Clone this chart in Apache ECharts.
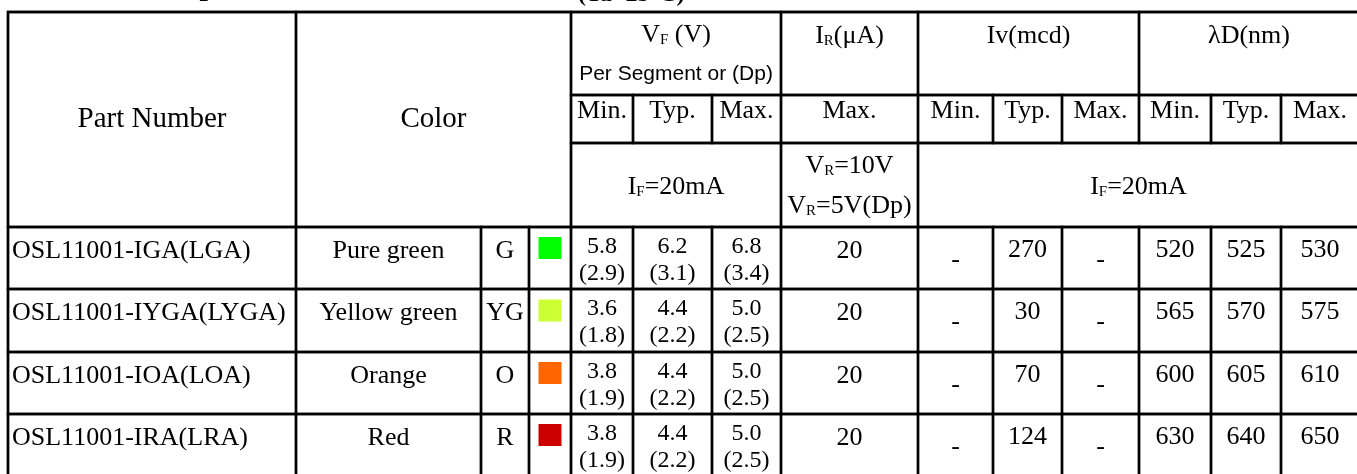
<!DOCTYPE html>
<html><head><meta charset="utf-8">
<script src="https://cdn.jsdelivr.net/npm/echarts@6/dist/echarts.min.js"></script>
<style>html,body{margin:0;padding:0;background:#fff;}#chart{width:1357px;height:474px;}</style>
</head><body><div id="chart"></div>
<script>
// ---- data ----
const partNumbers = ['OSL11001-IGA(LGA)', 'OSL11001-IYGA(LYGA)', 'OSL11001-IOA(LOA)', 'OSL11001-IRA(LRA)'];
const colorNames = ['Pure green', 'Yellow green', 'Orange', 'Red'];
const colorCodes = ['G', 'YG', 'O', 'R'];
const swatchColors = ['#00ff00', '#ccff33', '#ff6600', '#cc0000'];
const vfMin = [5.8, 3.6, 3.8, 3.8];
const vfMinDp = [2.9, 1.8, 1.9, 1.9];
const vfTyp = [6.2, 4.4, 4.4, 4.4];
const vfTypDp = [3.1, 2.2, 2.2, 2.2];
const vfMax = [6.8, 5.0, 5.0, 5.0];
const vfMaxDp = [3.4, 2.5, 2.5, 2.5];
const irMax = [20, 20, 20, 20];
const ivMin = ['-', '-', '-', '-'];
const ivTyp = [270, 30, 70, 124];
const ivMax = ['-', '-', '-', '-'];
const ldMin = [520, 565, 600, 630];
const ldTyp = [525, 570, 605, 640];
const ldMax = [530, 575, 610, 650];
const titleMain = 'Electrical-Optical Characteristics';
const titleCond = '(Ta=25°C)';
const headPart = 'Part Number';
const headColor = 'Color';
const headGroups = ['V{sub|F} (V)\n{sans|Per Segment or (Dp)}', 'I{sub|R}(μA)', 'Iv(mcd)', 'λD(nm)'];
const subHeaders = ['Min.', 'Typ.', 'Max.', 'Max.', 'Min.', 'Typ.', 'Max.', 'Min.', 'Typ.', 'Max.'];
const conditions = ['I{sub|F}=20mA', 'V{sub|R}=10V\nV{sub|R}=5V(Dp)', 'I{sub|F}=20mA'];

// ---- layout ----
const colKeys = ['part','cname','ccode','swatch','vfMin','vfTyp','vfMax','irMax','ivMin','ivTyp','ivMax','ldMin','ldTyp','ldMax'];
const colWidths = [288,185,48,42,62,79,69,137,75,69,77,72,70,78];
const rowKeys = ['h0','h1','h2','r0','r1','r2','r3'];
const rowHeights = [83,48,84,62,63,62,62];
const serif = 'Liberation Serif';

const cells = [];
function add(x, y, text, label) {
  const c = { coord: [x, y], value: String(text) };
  if (Array.isArray(x) || Array.isArray(y)) c.mergeCells = true;
  if (label) c.label = label;
  cells.push(c);
}
const pad = (t, l) => ({ padding: [t, 0, 0, l || 0] });

add('part', ['h0','h2'], headPart, { fontSize: 29, padding: [92.5, 0, 0, 0] });
add(['cname','swatch'], ['h0','h2'], headColor, { fontSize: 29, padding: [92.5, 0, 0, 0] });
add(['vfMin','vfMax'], 'h0', headGroups[0], { lineHeight: 38, padding: [4, 0, 0, 0] });
add('irMax', 'h0', headGroups[1], pad(9));
add(['ivMin','ivMax'], 'h0', headGroups[2], pad(9));
add(['ldMin','ldMax'], 'h0', headGroups[3], pad(9));
subHeaders.forEach((t, i) => add(colKeys[4 + i], 'h1', t, { lineHeight: 29, padding: [2, 0, 0, 0] }));
add(['vfMin','vfMax'], 'h2', conditions[0], pad(29));
add('irMax', 'h2', conditions[1], { lineHeight: 40, padding: [3, 0, 0, 0] });
add(['ivMin','ldMax'], 'h2', conditions[2], pad(29));

const vfLabel = { fontSize: 24, lineHeight: 26.5, padding: [6.5, 0, 0, 0] };
partNumbers.forEach((p, i) => {
  const r = rowKeys[3 + i];
  add('part', r, p, { align: 'left', padding: [9, 0, 0, -140] });
  add('cname', r, colorNames[i], pad(9));
  add('ccode', r, colorCodes[i], pad(9));
  add('swatch', r, '');
  add('vfMin', r, vfMin[i].toFixed(1) + '\n(' + vfMinDp[i].toFixed(1) + ')', vfLabel);
  add('vfTyp', r, vfTyp[i].toFixed(1) + '\n(' + vfTypDp[i].toFixed(1) + ')', vfLabel);
  add('vfMax', r, vfMax[i].toFixed(1) + '\n(' + vfMaxDp[i].toFixed(1) + ')', vfLabel);
  add('irMax', r, irMax[i], pad(9));
  add('ivMin', r, ivMin[i], pad(18));
  add('ivTyp', r, ivTyp[i], pad(8));
  add('ivMax', r, ivMax[i], pad(18));
  add('ldMin', r, ldMin[i], pad(8));
  add('ldTyp', r, ldTyp[i], pad(8));
  add('ldMax', r, ldMax[i], pad(8));
});

const chart = echarts.init(document.getElementById('chart'), null, { renderer: 'canvas' });
chart.setOption({
  animation: false,
  backgroundColor: '#fff',
  matrix: {
    left: 8, top: 12, width: 1351, height: 464,
    x: { show: false, data: colKeys.map((k, i) => ({ value: k, size: colWidths[i] })) },
    y: { show: false, data: rowKeys.map((k, i) => ({ value: k, size: rowHeights[i] })) },
    backgroundStyle: { color: 'transparent', borderColor: '#000', borderWidth: 2.4 },
    body: {
      itemStyle: { color: 'transparent', borderColor: '#000', borderWidth: 2.4 },
      label: {
        show: true, color: '#000', fontFamily: serif, fontSize: 26, lineHeight: 30, overflow: 'none',
        rich: {
          sub: { fontFamily: serif, fontSize: 15, lineHeight: 15, padding: [10, 0, 0, 0], color: '#000' },
          sans: { fontFamily: 'Liberation Sans', fontSize: 21, lineHeight: 40, color: '#000' }
        }
      },
      data: cells
    }
  },
  graphic: [
    { type: 'text', x: 43, y: -12.7, style: { text: titleMain, font: 'bold 30px "Liberation Serif"', fill: '#000', verticalAlign: 'middle' } },
    { type: 'text', x: 578, y: -5.2, style: { text: titleCond, font: 'bold 24px "Liberation Serif"', fill: '#000', verticalAlign: 'middle' } }
  ],
  series: [{
    type: 'scatter', coordinateSystem: 'matrix', matrixIndex: 0,
    symbol: 'rect', symbolSize: [23, 22], symbolOffset: [0, -10], silent: true, z: 10,
    data: swatchColors.map((c, i) => ({ value: ['swatch', rowKeys[3 + i]], itemStyle: { color: c, opacity: 1 } }))
  }]
});
</script></body></html>
